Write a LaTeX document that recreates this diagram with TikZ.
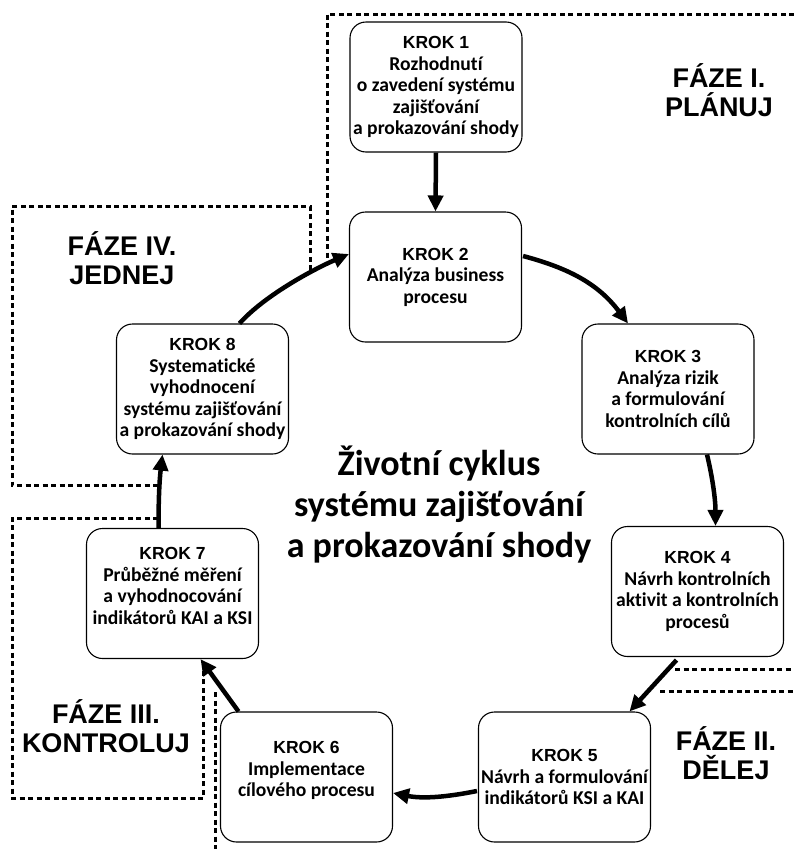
\documentclass[tikz,border=0pt]{standalone}
\usepackage{fontspec}
\setmainfont{Carlito}[Ligatures={NoCommon}]
\newfontfamily\arialf{Liberation Sans}
\usetikzlibrary{arrows.meta,calc}
\newcommand\kroklabel[1]{{\arialf\bfseries\fontsize{17.5}{21.5}\selectfont #1}}
\begin{document}
\begin{tikzpicture}[x=1pt,y=-1pt,
 krok/.style={draw,line width=1.1pt,rounded corners=16pt,minimum width=172pt,minimum height=130pt,align=center,inner sep=1pt,font=\fontsize{19.6}{21.5}\selectfont\bfseries},
 flow/.style={line width=4.5pt,-{Triangle[length=16pt,width=15pt]}},
 border/.style={line width=3pt,dash pattern=on 5pt off 3.5pt},
 phase/.style={align=center,font=\arialf\bfseries\fontsize{27}{29.5}\selectfont},
 maintitle/.style={align=center,font=\bfseries\fontsize{36}{41}\selectfont}]
\useasboundingbox (0,0) rectangle (794,849);

% phase borders
\draw[border] (794,14) -- (327,14) -- (327,260);
\draw[border] (310,270) -- (310,206) -- (12,206) -- (12,485) -- (158,485);
\draw[border] (158,518) -- (12,518) -- (12,798) -- (203,798) -- (203,668);
\draw[border] (215,692) -- (215,849);
\draw[border] (675,669) -- (794,669);
\draw[border] (660,691) -- (794,691);

% steps
\node[krok] (k1) at (436,87) {\kroklabel{KROK 1}\\Rozhodnutí\\o zavedení systému\\zajišťování\\a prokazování shody};
\node[krok] (k2) at (435.5,277) {\kroklabel{KROK 2}\\Analýza business\\procesu};
\node[krok] (k3) at (668,389) {\kroklabel{KROK 3}\\Analýza rizik\\a formulování\\kontrolních cílů};
\node[krok] (k4) at (697.5,591.5) {\kroklabel{KROK 4}\\Návrh kontrolních\\aktivit a kontrolních\\procesů};
\node[krok] (k5) at (564.5,777) {\kroklabel{KROK 5}\\Návrh a formulování\\indikátorů KSI a KAI};
\node[krok] (k6) at (306.5,777) {\kroklabel{KROK 6}\\Implementace\\cílového procesu\\[-6pt]~};
\node[krok] (k7) at (172.5,593.5) {\kroklabel{KROK 7}\\Průběžné měření\\a vyhodnocování\\indikátorů KAI a KSI\\[-6pt]~};
\node[krok] (k8) at (202.5,389) {\kroklabel{KROK 8}\\Systematické\\vyhodnocení\\systému zajišťování\\a prokazování shody};

% title and phases
\node[maintitle] (title) at (439,505) {Životní cyklus\\systému zajišťování\\a prokazování shody};
\node[phase] (p1) at (719,90) {FÁZE I.\\PLÁNUJ};
\node[phase] (p2) at (726,753) {FÁZE II.\\DĚLEJ};
\node[phase] (p3) at (106,726) {FÁZE III.\\KONTROLUJ};
\node[phase] (p4) at (122,258) {FÁZE IV.\\JEDNEJ};

% flow arrows
\draw[flow] (k1.south) -- (k2.north);
\draw[flow] ($(k2.east)+(1,-21)$) .. controls +(45,12) and +(-30,-40) .. ($(k3.north)+(-40,0)$);
\draw[flow] ($(k3.south)+(39,0)$) .. controls +(6,25) and +(0,-25) .. ($(k4.north)+(18,0)$);
\draw[flow] ($(k4.south)+(-21,3)$) -- ($(k5.north)+(65,0)$);
\draw[flow] ($(k5.west)+(-1,14)$) .. controls +(-30,6) and +(30,6) .. ($(k6.east)+(0,16)$);
\draw[flow] ($(k6.north)+(-68,0)$) -- ($(k7.south)+(28,0)$);
\draw[flow] ($(k7.north)+(-14,0)$) .. controls +(0,-30) and +(-3,25) .. ($(k8.south)+(-40,0)$);
\draw[flow] ($(k8.north)+(37,0)$) .. controls +(25,-28) and +(-35,15) .. ($(k2.west)+(0,-23)$);
\end{tikzpicture}
\end{document}
